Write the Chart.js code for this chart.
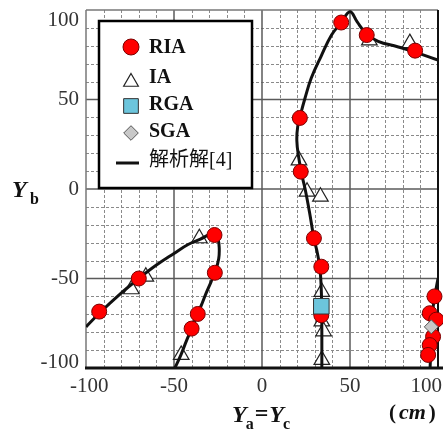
<!DOCTYPE html>
<html>
<head>
<meta charset="utf-8">
<script src="https://cdn.jsdelivr.net/npm/chart.js@4.4.0/dist/chart.umd.min.js"></script>
<style>
html, body { margin: 0; padding: 0; background: #fff; }
canvas { display: block; }
</style>
</head>
<body>
<canvas id="chart" width="443" height="429"></canvas>
<script>
// axis ticks
var xTicks = [-100, -50, 0, 50, 100];
var yTicks = [-100, -50, 0, 50, 100];
var gridStep = 10, majorStep = 50;

// RIA (red circles)
var riaX = [45, 59.5, 87, 21.5, 22, 29.5, 33.7, 33.7, -27, -26.8, -36.5, -40, -70, -92.5, 98, 95.3, 99, 97.2, 95.3, 94.4];
var riaY = [93, 86, 77.3, 39.7, 9.7, -27.5, -43.4, -70.5, -25.7, -46.8, -69.8, -78, -50, -68.5, -60, -69.4, -73, -82.5, -87.2, -92.7];

// IA (white triangles)
var iaX = [61, 84, 21, 25.6, 33.2, 34, 34, 35, 34, -35.6, -66, -74.2, -45.9];
var iaY = [83, 81.5, 16, -1.5, -4.3, -57.5, -74, -79.5, -95.5, -27.5, -49, -56, -92.7];

// RGA (blue square) and SGA (grey diamond)
var rgaX = [33.7];
var rgaY = [-65.5];
var sgaX = [96.2];
var sgaY = [-77];

// analytic solution [4], traced
var curveAX = [-100, -92, -81, -70, -60, -50, -42, -35, -30, -27, -25, -24.3, -24.6, -26.5, -29, -31.8, -34.5, -36.8, -40, -43, -46, -49.5];
var curveAY = [-77, -69, -59, -50, -42.5, -36, -31, -28, -25.5, -25, -28, -33, -39, -46, -52, -58.3, -65, -70, -78, -85, -92.5, -100];
var curveBX = [34, 34, 33.8, 33, 31.5, 29.5, 27, 24.5, 22.5, 20.8, 19.8, 20.3, 22, 24.5, 28, 33.5, 39.5, 45, 50, 54, 59, 66, 77, 87, 100];
var curveBY = [-100, -80, -60, -45, -36, -27.5, -13, 0, 8.5, 18, 27, 35, 42, 51, 62, 74, 86, 93, 99, 93.5, 87, 82.5, 79.5, 76.5, 72];
var curveCX = [100, 98.5, 97, 96.5, 96, 95.5];
var curveCY = [-50, -58, -68, -78, -88, -100];

var legendLabels = ['RIA', 'IA', 'RGA', 'SGA', '解析解[4]'];

function pts(xs, ys) {
    return xs.map(function (x, i) { return { x: x, y: ys[i] }; });
}

var serif = '"Liberation Serif", "DejaVu Serif", serif';

//grid, borders
var paperGrid = {
    id: 'paperGrid',
    beforeDatasetsDraw: function (chart) {
        var ctx = chart.ctx, a = chart.chartArea, xs = chart.scales.x, ys = chart.scales.y;
        function seg(x1, y1, x2, y2) { ctx.beginPath(); ctx.moveTo(x1, y1); ctx.lineTo(x2, y2); ctx.stroke(); }
        ctx.save();
        ctx.lineWidth = 1;
        ctx.strokeStyle = '#8a8a8a';
        ctx.setLineDash([3, 2]);
        for (var v = xs.min + gridStep; v < xs.max; v += gridStep) {
            if (v % majorStep === 0) continue;
            var px = Math.round(xs.getPixelForValue(v)) + 0.5;
            seg(px, a.top, px, a.bottom);
        }
        for (var w = ys.min + gridStep; w < ys.max; w += gridStep) {
            if (w % majorStep === 0) continue;
            var py = Math.round(ys.getPixelForValue(w)) + 0.5;
            seg(a.left, py, a.right, py);
        }
        ctx.setLineDash([]);
        ctx.strokeStyle = '#5a5a5a';
        ctx.lineWidth = 1.5;
        xTicks.forEach(function (t) {
            if (t === xs.min || t === xs.max) return;
            var px = xs.getPixelForValue(t);
            seg(px, a.top, px, a.bottom);
        });
        yTicks.forEach(function (t) {
            if (t === ys.min || t === ys.max) return;
            var py = ys.getPixelForValue(t);
            seg(a.left, py, a.right, py);
        });
        // borders
        ctx.strokeStyle = '#777';
        ctx.lineWidth = 1.5;
        seg(a.left, a.top, a.right, a.top);
        seg(a.left, a.top, a.left, a.bottom);
        ctx.strokeStyle = '#111';
        ctx.lineWidth = 2;
        seg(a.right, a.top, a.right, a.bottom);
        ctx.lineWidth = 3;
        seg(a.left - 1, a.bottom, chart.width, a.bottom);
        ctx.restore();
    }
};

// tick labels, axis titles, legend box
var paperLabels = {
    id: 'paperLabels',
    afterDraw: function (chart) {
        var ctx = chart.ctx, a = chart.chartArea, xs = chart.scales.x, ys = chart.scales.y;
        ctx.save();
        ctx.fillStyle = '#333';
        ctx.font = '21px ' + serif;
        ctx.textBaseline = 'middle';
        ctx.textAlign = 'right';
        yTicks.forEach(function (t) {
            var py = Math.min(Math.max(ys.getPixelForValue(t), a.top + 10), a.bottom - 6);
            ctx.fillText(String(t), a.left - 7, py);
        });
        ctx.textAlign = 'center';
        xTicks.forEach(function (t) {
            var s = String(t);
            var half = ctx.measureText(s).width / 2;
            var px = xs.getPixelForValue(t);
            px = Math.min(Math.max(px, a.left - 16 + half), chart.width - 1 - half);
            ctx.fillText(s, px, a.bottom + 18);
        });

        // axis titles
        ctx.fillStyle = '#111';
        ctx.textAlign = 'left';
        ctx.textBaseline = 'alphabetic';
        var big = 'italic bold 24px ' + serif, sub = 'bold 16px ' + serif;
        ctx.font = big; ctx.fillText('Y', 12, 197);
        ctx.font = sub; ctx.fillText('b', 30, 204);

        var x = 232;
        ctx.font = big; ctx.fillText('Y', x, 422); x += ctx.measureText('Y').width - 1;
        ctx.font = sub; ctx.fillText('a', x, 429); x += ctx.measureText('a').width + 1;
        ctx.font = 'bold 24px ' + serif; ctx.fillText('=', x, 421); x += ctx.measureText('=').width + 1;
        ctx.font = big; ctx.fillText('Y', x, 422); x += ctx.measureText('Y').width - 1;
        ctx.font = sub; ctx.fillText('c', x, 429);

        x = 389;
        ctx.font = 'bold 21px ' + serif; ctx.fillText('(', x, 419); x += ctx.measureText('(').width + 3;
        ctx.font = 'italic bold 22px ' + serif; ctx.fillText('cm', x, 419); x += ctx.measureText('cm').width + 3;
        ctx.font = 'bold 21px ' + serif; ctx.fillText(')', x, 419);

        // legend
        var bx = a.left + 13, by = a.top + 11, bw = 153, bh = 167;
        ctx.fillStyle = '#fff';
        ctx.fillRect(bx, by, bw, bh);
        ctx.strokeStyle = '#000';
        ctx.lineWidth = 2.5;
        ctx.strokeRect(bx, by, bw, bh);

        var ds = chart.data.datasets;
        var rows = [
            { set: ds[2], r: 8, y: 26, ty: 27 },
            { set: ds[6], r: 8.5, y: 61, ty: 57 },
            { set: ds[1], r: 10.4, y: 85, ty: 84 },
            { set: ds[0], r: 7.3, y: 112, ty: 111 },
            { set: ds[3], r: 0, y: 142, ty: 140 }
        ];
        rows.forEach(function (row, i) {
            var cx = bx + 32, cy = by + row.y;
            if (row.r > 0) {
                ctx.fillStyle = row.set.backgroundColor;
                ctx.strokeStyle = row.set.borderColor;
                ctx.lineWidth = row.set.borderWidth;
                Chart.helpers.drawPoint(ctx, { pointStyle: row.set.pointStyle, radius: row.r, rotation: 0, borderWidth: row.set.borderWidth }, cx, cy);
            } else {
                ctx.strokeStyle = row.set.borderColor;
                ctx.lineWidth = 3;
                ctx.beginPath(); ctx.moveTo(bx + 17, cy); ctx.lineTo(bx + 40, cy); ctx.stroke();
            }
            ctx.fillStyle = '#111';
            ctx.textBaseline = 'middle';
            ctx.font = i < 4 ? 'bold 20px ' + serif : '20px ' + serif + ', "Noto Sans CJK JP"';
            ctx.fillText(legendLabels[i], bx + 50, by + row.ty);
        });
        ctx.restore();
    }
};

var lineStyle = { showLine: true, pointRadius: 0, pointHoverRadius: 0, borderColor: '#111', borderWidth: 3, tension: 0.4, fill: false, order: 3 };

new Chart(document.getElementById('chart'), {
    type: 'scatter',
    data: {
        datasets: [
            { label: 'SGA', data: pts(sgaX, sgaY), pointStyle: 'rectRot', pointRadius: 7, backgroundColor: '#c8c8c8', borderColor: '#555', borderWidth: 1, order: 0, clip: false },
            { label: 'RGA', data: pts(rgaX, rgaY), pointStyle: 'rect', pointRadius: 11, backgroundColor: '#6cc5dc', borderColor: '#333', borderWidth: 1, order: 1, clip: false },
            { label: 'RIA', data: pts(riaX, riaY), pointStyle: 'circle', pointRadius: 7.5, backgroundColor: '#ff0000', borderColor: '#7a0000', borderWidth: 1, order: 2, clip: false },
            Object.assign({ label: '解析解[4]', data: pts(curveAX, curveAY) }, lineStyle),
            Object.assign({ label: 'curveB', data: pts(curveBX, curveBY) }, lineStyle),
            Object.assign({ label: 'curveC', data: pts(curveCX, curveCY) }, lineStyle),
            { label: 'IA', data: pts(iaX, iaY), pointStyle: 'triangle', pointRadius: 9, backgroundColor: '#fff', borderColor: '#222', borderWidth: 1.2, order: 6, clip: false }
        ]
    },
    options: {
        responsive: false,
        animation: false,
        devicePixelRatio: 1,
        layout: { autoPadding: false, padding: { top: 10, right: 5, left: 0, bottom: 0 } },
        plugins: { legend: { display: false }, tooltip: { enabled: false } },
        scales: {
            x: {
                type: 'linear', min: -100, max: 100,
                grid: { display: false, drawTicks: false }, border: { display: false },
                ticks: { display: false },
                afterFit: function (s) { s.height = 61; }
            },
            y: {
                type: 'linear', min: -100, max: 100,
                grid: { display: false, drawTicks: false }, border: { display: false },
                ticks: { display: false },
                afterFit: function (s) { s.width = 86; }
            }
        }
    },
    plugins: [paperGrid, paperLabels]
});
</script>
</body>
</html>
